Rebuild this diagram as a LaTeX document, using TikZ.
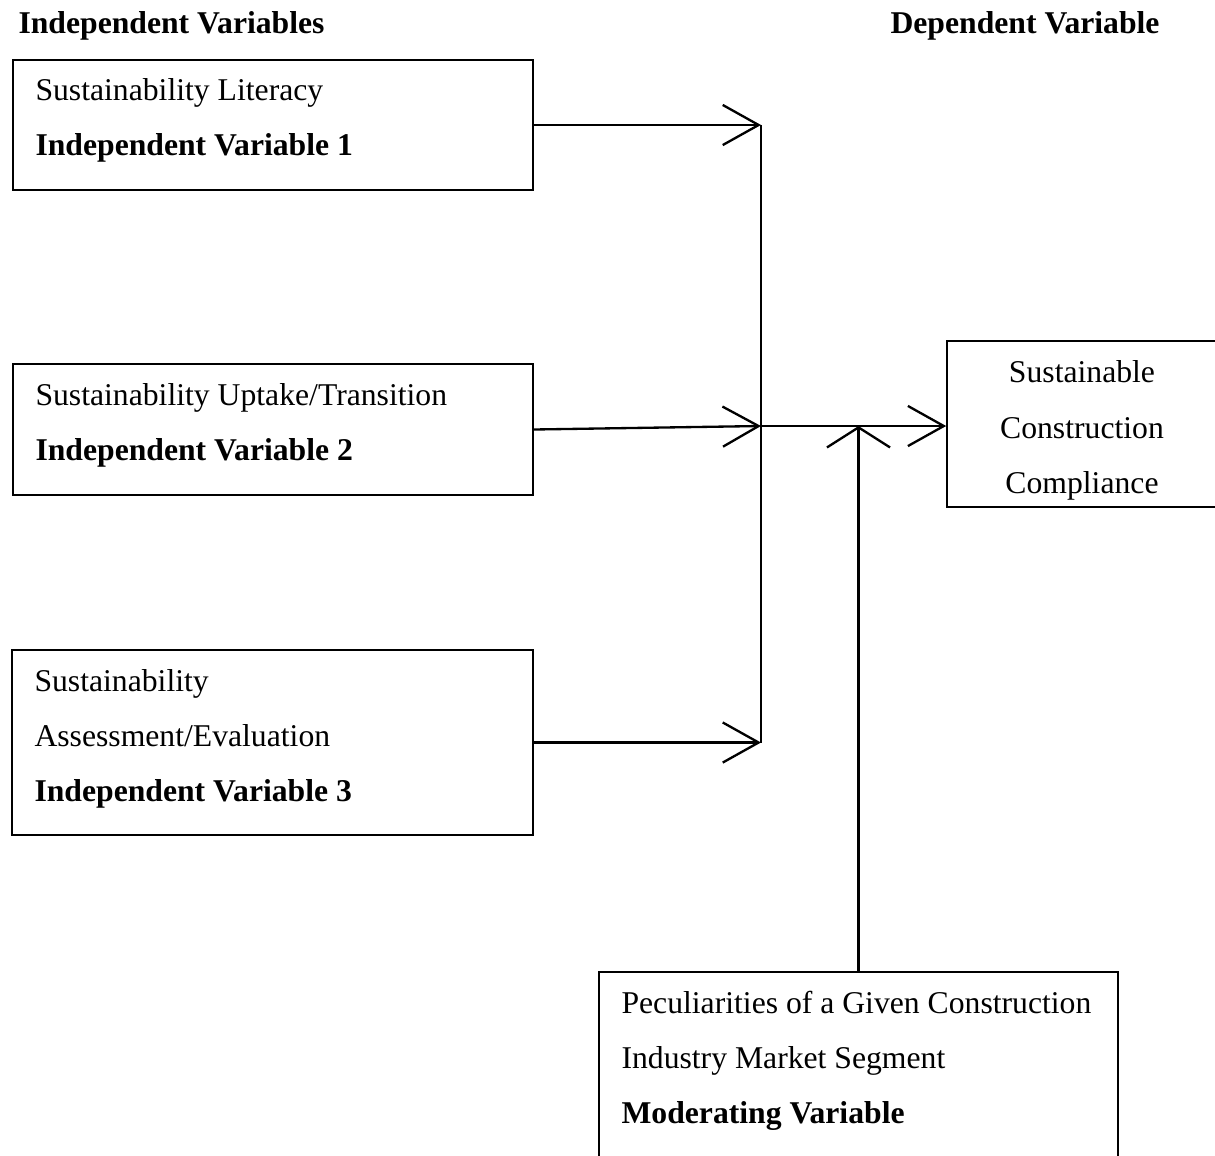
\documentclass[tikz,border=0pt]{standalone}
\usepackage{fontspec}
\setmainfont{Liberation Serif}
\usetikzlibrary{arrows.meta,fit}
\begin{document}
\begin{tikzpicture}[
  x=0.3788pt, y=-0.3788pt,
  box/.style={draw, line width=0.62pt, rectangle, inner sep=0pt},
  txt/.style={inner sep=0pt, font=\fontsize{12}{14}\selectfont},
  ltxt/.style={txt, anchor=base west},
  ctxt/.style={txt, anchor=base},
  link/.style={line width=0.88pt},
  harrow/.style={link, -{Straight Barb[length=13.6pt,width=15.2pt]}},
  uparrow/.style={link, -{Straight Barb[length=7.6pt,width=23.9pt]}}
]
\clip (0,0) rectangle (1215,1155);

% column headings
\node[ltxt] (hind) at (18,33) {\textbf{Independent Variables}};
\node[ltxt] (hdep) at (890,33) {\textbf{Dependent Variable}};

% independent variable boxes
\node[box, fit={(13,60) (533,190)}] (b1) {};
\node[ltxt] (b1a) at (35,100) {Sustainability Literacy};
\node[ltxt] (b1b) at (35,155) {\textbf{Independent Variable 1}};

\node[box, fit={(13,364) (533,495)}] (b2) {};
\node[ltxt] (b2a) at (35,405) {Sustainability Uptake/Transition};
\node[ltxt] (b2b) at (35,460) {\textbf{Independent Variable 2}};

\node[box, fit={(12,650) (533,835)}] (b3) {};
\node[ltxt] (b3a) at (34,691) {Sustainability};
\node[ltxt] (b3b) at (34,746) {Assessment/Evaluation};
\node[ltxt] (b3c) at (34,801) {\textbf{Independent Variable 3}};

% dependent variable box
\node[box, fit={(947,341) (1217,507)}] (dv) {};
\node[ctxt] (dva) at (1082,382) {Sustainable};
\node[ctxt] (dvb) at (1082,438) {Construction};
\node[ctxt] (dvc) at (1082,493) {Compliance};

% moderating variable box
\node[box, fit={(599,972) (1118,1200)}] (mv) {};
\node[ltxt] (mva) at (621,1013) {Peculiarities of a Given Construction};
\node[ltxt] (mvb) at (621,1068) {Industry Market Segment};
\node[ltxt] (mvc) at (621,1123) {\textbf{Moderating Variable}};

% collecting bus and connectors
\coordinate (hub) at (761,426);
\draw[link] (b1.east -| hub) -- (b3.east -| hub);
\draw[harrow] (b1.east) -- (b1.east -| hub);
\draw[harrow] (b2.east) -- (hub);
\draw[harrow] (b3.east) -- (b3.east -| hub);
\draw[harrow] (hub) -- (hub -| dv.west);
\draw[uparrow] (mv.north) -- (mv.north |- hub);
\end{tikzpicture}
\end{document}
